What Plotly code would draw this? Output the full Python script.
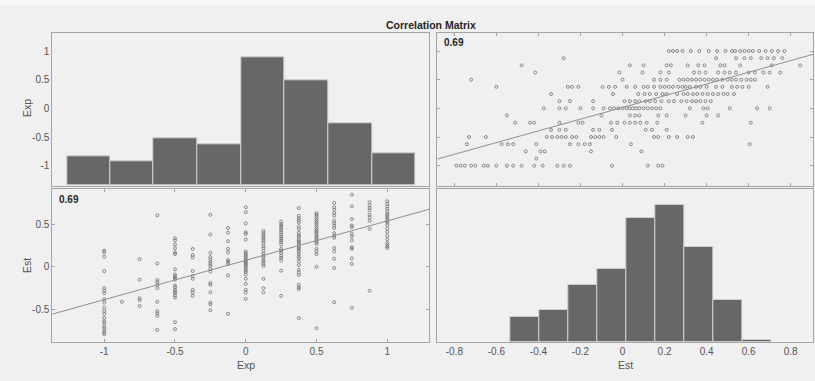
import plotly.graph_objects as go

# ---------------- data ----------------
exp_levels = [-1, -0.875, -0.75, -0.625, -0.5, -0.375, -0.25, -0.125, 0,
              0.125, 0.25, 0.375, 0.5, 0.625, 0.75, 0.875, 1]

est_by_level = [
    [0.19, 0.17, 0.12, -0.05, -0.25, -0.28, -0.31, -0.38, -0.42, -0.48, -0.52, -0.55, -0.6, -0.64, -0.66, -0.7, -0.72, -0.75, -0.77, -0.79],
    [-0.41],
    [0.09, -0.15, -0.37, -0.39, -0.46],
    [0.605, 0.04, -0.155, -0.18, -0.21, -0.25, -0.41, -0.52, -0.545, -0.575, -0.74],
    [0.335, 0.31, 0.26, 0.22, 0.17, 0.15, -0.03, -0.09, -0.11, -0.13, -0.15, -0.22, -0.24, -0.27, -0.29, -0.31, -0.335, -0.36, -0.65, -0.73],
    [0.21, 0.14, 0.11, -0.05, -0.11, -0.14, -0.27, -0.30, -0.34],
    [0.61, 0.38, 0.165, 0.115, 0.085, 0.06, 0.035, 0.01, -0.025, -0.055, -0.19, -0.21, -0.30, -0.42, -0.44, -0.51],
    [0.455, 0.4, 0.3, 0.21, 0.17, 0.08, 0.06, 0.035, -0.1, -0.55],
    [0.70, 0.64, 0.51, 0.405, 0.385, 0.32, 0.18, 0.16, 0.14, 0.12, 0.10, 0.08, 0.065, 0.05, 0.035, 0.02, 0.0, -0.02, -0.04, -0.06, -0.09, -0.14, -0.2, -0.27, -0.30, -0.375],
    [0.42, 0.395, 0.37, 0.35, 0.33, 0.305, 0.28, 0.245, 0.22, 0.185, 0.155, 0.13, 0.11, 0.08, 0.06, 0.035, 0.01, -0.14, -0.25, -0.3],
    [0.53, 0.50, 0.48, 0.455, 0.43, 0.405, 0.38, 0.355, 0.335, 0.31, 0.29, 0.26, 0.21, 0.19, 0.16, 0.13, 0.105, 0.075, -0.045, -0.34],
    [0.69, 0.60, 0.57, 0.545, 0.52, 0.475, 0.445, 0.40, 0.37, 0.35, 0.32, 0.30, 0.285, 0.265, 0.24, 0.22, 0.20, 0.18, 0.15, 0.12, 0.10, 0.06, 0.02, -0.035, -0.065, -0.095, -0.21, -0.24, -0.26, -0.6],
    [0.63, 0.61, 0.59, 0.565, 0.54, 0.52, 0.50, 0.475, 0.45, 0.43, 0.41, 0.39, 0.37, 0.35, 0.33, 0.31, 0.29, 0.27, 0.21, 0.18, 0.15, 0.0, -0.72],
    [0.75, 0.70, 0.67, 0.63, 0.60, 0.54, 0.51, 0.485, 0.455, 0.395, 0.365, 0.34, 0.22, 0.18, 0.095, -0.015, -0.415],
    [0.845, 0.71, 0.56, 0.485, 0.465, 0.39, 0.36, 0.31, 0.23, 0.21, 0.10, 0.035, -0.48],
    [0.76, 0.72, 0.69, 0.66, 0.61, 0.58, 0.54, 0.445, -0.28],
    [0.77, 0.74, 0.71, 0.68, 0.65, 0.62, 0.60, 0.58, 0.56, 0.535, 0.52, 0.49, 0.45, 0.41, 0.365, 0.325, 0.285, 0.26, 0.24, 0.22],
]

# diagonal histograms (bin edges in displayed axis units, bar heights)
exp_hist_edges = [-1.263, -0.957, -0.650, -0.342, -0.033, 0.273, 0.584, 0.891, 1.197]
exp_hist_counts = [29, 24, 47, 41, 128, 105, 62, 32]
est_hist_edges = [-0.535, -0.397, -0.259, -0.121, 0.017, 0.155, 0.292, 0.430, 0.568, 0.706]
est_hist_counts = [25, 32, 57, 73, 124, 137, 95, 42, 2]
hist_count_max = 152.5   # count at the top edge of a diagonal panel

# least-squares lines (slope, intercept)
fit_est_on_exp = (0.462, 0.077)
fit_exp_on_est = (1.022, 0.016)
corr_text = "0.69"

var_names = ["Exp", "Est"]
title_text = "Correlation Matrix"

# axis limits
exp_range_x = [-1.367, 1.297]
exp_range_y = [-1.349, 1.309]
est_range_x = [-0.881, 0.906]
est_range_y = [-0.878, 0.913]

# ---------------- build ----------------
exp_vals, est_vals = [], []
for lv, ests in zip(exp_levels, est_by_level):
    for e in ests:
        exp_vals.append(lv)
        est_vals.append(e)

W, H = 815, 381
def fx(px):
    return px / W
def fy(py):
    return 1 - py / H

dom_x_left = [fx(52.3), fx(429.3)]
dom_x_right = [fx(437.3), fx(813)]
dom_y_top = [fy(185.7), fy(33.3)]
dom_y_bot = [fy(341.7), fy(189)]

BAR = "#676767"
BAREDGE = "#cfcfcf"
MK = "#707070"
LINE = "#8f8f8f"
AX = "#a4a4a4"
TXT = "#555555"
FONT = "Liberation Sans, Arial, Helvetica, sans-serif"

fig = go.Figure()

def centers(edges):
    return [(a + b) / 2 for a, b in zip(edges[:-1], edges[1:])]
def widths(edges):
    return [b - a for a, b in zip(edges[:-1], edges[1:])]

# top-left histogram (Exp) drawn in the Exp-scaled panel: counts rescaled to panel height
span_tl = exp_range_y[1] - exp_range_y[0]
fig.add_trace(go.Bar(x=centers(exp_hist_edges),
                     y=[c / hist_count_max * span_tl for c in exp_hist_counts],
                     base=exp_range_y[0], width=widths(exp_hist_edges),
                     marker=dict(color=BAR, line=dict(color=BAREDGE, width=1)),
                     xaxis="x", yaxis="y", showlegend=False, hoverinfo="skip"))

# top-right scatter: x=Est, y=Exp
fig.add_trace(go.Scatter(x=est_vals, y=exp_vals, mode="markers",
                         marker=dict(symbol="circle-open", size=3, color=MK, line=dict(width=0.8)),
                         xaxis="x2", yaxis="y2", showlegend=False))
s, b = fit_exp_on_est
fig.add_trace(go.Scatter(x=est_range_x, y=[s * v + b for v in est_range_x], mode="lines",
                         line=dict(color=LINE, width=1), xaxis="x2", yaxis="y2", showlegend=False))

# bottom-left scatter: x=Exp, y=Est
fig.add_trace(go.Scatter(x=exp_vals, y=est_vals, mode="markers",
                         marker=dict(symbol="circle-open", size=3, color=MK, line=dict(width=0.8)),
                         xaxis="x3", yaxis="y3", showlegend=False))
s, b = fit_est_on_exp
fig.add_trace(go.Scatter(x=exp_range_x, y=[s * v + b for v in exp_range_x], mode="lines",
                         line=dict(color=LINE, width=1), xaxis="x3", yaxis="y3", showlegend=False))

# bottom-right histogram (Est)
fig.add_trace(go.Bar(x=centers(est_hist_edges), y=est_hist_counts, width=widths(est_hist_edges),
                     marker=dict(color=BAR, line=dict(color=BAREDGE, width=1)),
                     xaxis="x4", yaxis="y4", showlegend=False, hoverinfo="skip"))

common = dict(showline=True, linecolor=AX, linewidth=1, showgrid=False,
              zeroline=False, tickfont=dict(family=FONT, size=10, color=TXT),
              tickcolor=AX, ticklen=3, tickwidth=1)

exp_ticks = [-1, -0.5, 0, 0.5, 1]
est_ticks_x = [-0.8, -0.6, -0.4, -0.2, 0, 0.2, 0.4, 0.6, 0.8]
est_ticks_y = [-0.5, 0, 0.5]

def lab(v):
    return ("%g" % v)

fig.update_layout(
    width=W, height=H,
    margin=dict(l=0, r=0, t=0, b=0),
    paper_bgcolor="#f0f0f0", plot_bgcolor="#f0f0f0",
    bargap=0,
    xaxis=dict(domain=dom_x_left, anchor="y", range=exp_range_x, showticklabels=False,
               ticks="", mirror=True, **common),
    yaxis=dict(domain=dom_y_top, anchor="x", range=exp_range_y, tickvals=exp_ticks,
               ticktext=[lab(v) for v in exp_ticks], ticks="", mirror=True, **common),
    xaxis2=dict(domain=dom_x_right, anchor="y2", range=est_range_x, tickvals=est_ticks_x,
                showticklabels=False, ticks="inside", mirror="ticks", **common),
    yaxis2=dict(domain=dom_y_top, anchor="x2", range=exp_range_y, tickvals=exp_ticks,
                showticklabels=False, ticks="inside", mirror="ticks", **common),
    xaxis3=dict(domain=dom_x_left, anchor="y3", range=exp_range_x, tickvals=exp_ticks,
                ticktext=[lab(v) for v in exp_ticks], ticks="inside", mirror="ticks", **common),
    yaxis3=dict(domain=dom_y_bot, anchor="x3", range=est_range_y, tickvals=est_ticks_y,
                ticktext=[lab(v) for v in est_ticks_y], ticks="inside", mirror="ticks", **common),
    xaxis4=dict(domain=dom_x_right, anchor="y4", range=est_range_x, tickvals=est_ticks_x,
                ticktext=[lab(v) for v in est_ticks_x], ticks="", mirror=True, **common),
    yaxis4=dict(domain=dom_y_bot, anchor="x4", range=[0, hist_count_max], showticklabels=False,
                ticks="", mirror=True, **common),
)

fig.add_shape(type="rect", xref="paper", yref="paper", x0=0, x1=1, y0=fy(5), y1=1,
              fillcolor="#f8f8f8", line=dict(width=0), layer="below")

ann = []
ann.append(dict(text="<b>%s</b>" % title_text, x=fx(431), y=fy(25), xref="paper", yref="paper",
                showarrow=False, font=dict(family=FONT, size=10.5, color="#262626"),
                xanchor="center", yanchor="middle"))
ann.append(dict(text="<b>%s</b>" % corr_text, x=fx(442), y=fy(43), xref="paper", yref="paper",
                showarrow=False, font=dict(family=FONT, size=10, color="#262626"),
                xanchor="left", yanchor="middle"))
ann.append(dict(text="<b>%s</b>" % corr_text, x=fx(57), y=fy(199.5), xref="paper", yref="paper",
                showarrow=False, font=dict(family=FONT, size=10, color="#262626"),
                xanchor="left", yanchor="middle"))
ann.append(dict(text=var_names[0], x=fx(27), y=fy(108), xref="paper", yref="paper", textangle=-90,
                showarrow=False, font=dict(family=FONT, size=10.5, color=TXT),
                xanchor="center", yanchor="middle"))
ann.append(dict(text=var_names[1], x=fx(27), y=fy(266), xref="paper", yref="paper", textangle=-90,
                showarrow=False, font=dict(family=FONT, size=10.5, color=TXT),
                xanchor="center", yanchor="middle"))
ann.append(dict(text=var_names[0], x=fx(246), y=fy(365), xref="paper", yref="paper",
                showarrow=False, font=dict(family=FONT, size=10.5, color=TXT),
                xanchor="center", yanchor="middle"))
ann.append(dict(text=var_names[1], x=fx(625), y=fy(365), xref="paper", yref="paper",
                showarrow=False, font=dict(family=FONT, size=10.5, color=TXT),
                xanchor="center", yanchor="middle"))
fig.update_layout(annotations=ann)

fig.write_html("out.html")
